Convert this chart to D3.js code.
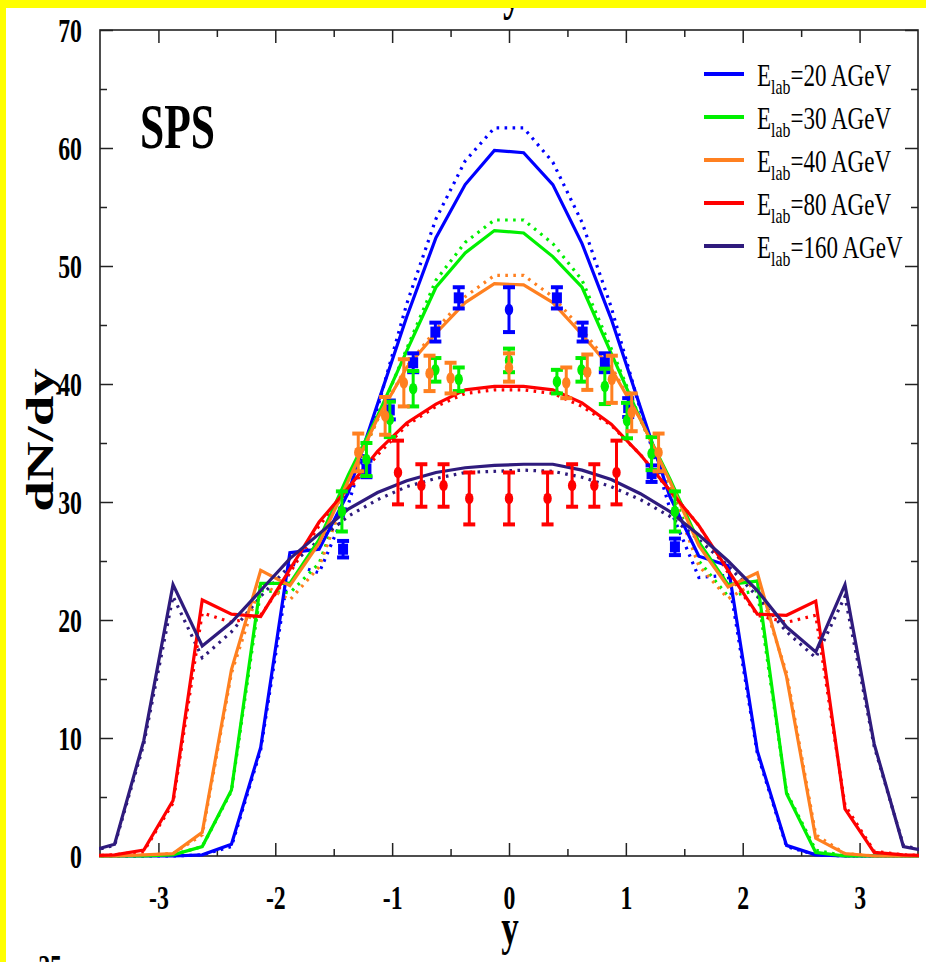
<!DOCTYPE html>
<html>
<head>
<meta charset="utf-8">
<script src="https://cdn.jsdelivr.net/npm/d3@7"></script>
<style>
  body { margin: 0; padding: 0; background: #fff; }
  svg { display: block; }
  text { font-family: 'Liberation Serif', 'Times New Roman', serif; }
</style>
</head>
<body>
<div id="main"></div>
<script>
// model grid (rapidity bins)
const xGrid = [-3.625, -3.375, -3.125, -2.875, -2.625, -2.375, -2.125, -1.875, -1.625, -1.375, -1.125, -0.875, -0.625, -0.375, -0.125,
    0.125, 0.375, 0.625, 0.875, 1.125, 1.375, 1.625, 1.875, 2.125, 2.375, 2.625, 2.875, 3.125, 3.375, 3.625];

const blueSolid = [0, 0, 0, 0, 0.1, 1.0, 9.2, 25.7, 26.0, 30.8, 38.3, 45.7, 52.4, 56.9, 59.8, 59.6, 56.9, 51.9, 45.5, 38.0, 30.5, 25.4, 24.6, 8.9, 0.9, 0.1, 0, 0, 0, 0];
const blueDot = [0, 0, 0, 0, 0.1, 0.8, 9.0, 24.8, 24.0, 29.8, 38.0, 46.8, 54.0, 58.9, 61.7, 61.7, 58.8, 53.7, 46.5, 37.8, 29.5, 23.6, 23.8, 8.7, 0.8, 0.1, 0, 0, 0, 0];
const greenSolid = [0, 0, 0, 0.1, 0.8, 5.6, 23.1, 23.1, 26.8, 32.3, 37.3, 42.8, 48.2, 51.1, 53.0, 52.8, 50.8, 48.2, 42.6, 37.0, 32.0, 26.6, 23.0, 23.3, 5.3, 0.3, 0, 0, 0, 0];
const greenDot = [0, 0, 0, 0.1, 0.8, 5.5, 22.5, 22.3, 24.8, 31.5, 37.0, 43.0, 48.8, 52.0, 53.9, 53.9, 51.9, 48.8, 43.0, 37.0, 31.5, 25.0, 22.0, 22.5, 5.4, 0.5, 0, 0, 0, 0];
const orangeSolid = [0, 0, 0.1, 0.2, 2.0, 15.8, 24.2, 22.9, 26.5, 31.8, 37.1, 41.4, 44.3, 46.9, 48.5, 48.4, 46.9, 44.2, 41.3, 37.0, 31.8, 26.3, 22.8, 24.0, 15.2, 1.5, 0.2, 0, 0, 0];
const orangeDot = [0, 0, 0.1, 0.2, 1.8, 15.5, 23.1, 21.7, 24.5, 31.2, 37.0, 41.5, 44.6, 47.4, 49.2, 49.2, 47.4, 44.6, 41.5, 37.0, 31.2, 24.6, 21.8, 23.3, 15.5, 1.8, 0.2, 0, 0, 0];
const redSolid = [0, 0.1, 0.5, 4.7, 21.7, 20.5, 20.3, 24.3, 28.3, 31.2, 34.3, 36.7, 38.3, 39.5, 39.8, 39.8, 39.5, 38.4, 36.6, 34.0, 31.0, 28.0, 24.2, 20.5, 20.4, 21.6, 4.0, 0.3, 0.1, 0];
const redDot = [0, 0.1, 0.4, 4.5, 20.6, 19.8, 20.4, 24.0, 28.0, 31.0, 34.0, 36.5, 38.1, 39.2, 39.5, 39.5, 39.2, 38.1, 36.5, 34.0, 31.0, 28.0, 24.0, 20.4, 19.8, 20.4, 4.3, 0.4, 0.1, 0];
const purpleSolid = [0.3, 1.0, 9.8, 23.0, 17.8, 19.8, 22.5, 25.2, 27.3, 29.4, 30.8, 31.8, 32.5, 32.9, 33.1, 33.2, 33.2, 32.7, 31.9, 30.7, 29.2, 27.2, 25.0, 22.5, 19.4, 17.3, 23.0, 9.5, 0.8, 0.3];
const purpleDot = [0.3, 0.9, 9.5, 22.0, 16.8, 19.0, 22.0, 24.6, 26.8, 28.8, 30.2, 31.3, 32.0, 32.5, 32.6, 32.7, 32.6, 32.1, 31.3, 30.2, 28.8, 26.8, 24.6, 22.0, 19.0, 16.8, 22.0, 9.3, 0.9, 0.3];

// measured points
const blueX = [-1.42, -1.22, -1.02, -0.82, -0.63, -0.43, 0, 0.41, 0.63, 0.82, 1.02, 1.22, 1.42];
const blueY = [26.0, 32.8, 37.8, 41.8, 44.4, 47.3, 46.3, 47.3, 44.4, 41.8, 38.0, 32.4, 26.2];
const blueErr = [0.7, 0.7, 0.8, 0.8, 0.8, 0.9, 1.9, 0.9, 0.8, 0.8, 0.8, 0.7, 0.7];
const greenX = [-1.43, -1.22, -1.02, -0.82, -0.63, -0.43, 0, 0.41, 0.62, 0.82, 1.01, 1.22, 1.42];
const greenY = [29.2, 33.6, 37.0, 39.6, 41.2, 40.4, 42.0, 40.2, 41.2, 39.8, 36.9, 34.1, 29.2];
const greenErr = [1.7, 1.4, 1.5, 1.5, 1.0, 1.0, 1.0, 1.0, 1.0, 1.5, 1.5, 1.4, 1.7];
const orangeX = [-1.29, -1.06, -0.9, -0.68, -0.5, 0, 0.49, 0.67, 0.88, 1.05, 1.28];
const orangeY = [34.2, 37.3, 40.1, 40.9, 40.5, 41.4, 40.1, 41.0, 40.4, 37.6, 34.2];
const orangeErr = [1.6, 1.6, 2.0, 1.5, 1.3, 1.2, 1.3, 1.5, 2.0, 1.6, 1.6];
const redX = [-0.95, -0.75, -0.56, -0.34, 0, 0.33, 0.54, 0.73, 0.92];
const redY = [32.5, 31.4, 31.4, 30.3, 30.3, 30.3, 31.4, 31.4, 32.5];
const redErr = [2.7, 1.8, 1.8, 2.2, 2.2, 2.2, 1.8, 1.8, 2.7];

const legendLabels = ['20', '30', '40', '80', '160'];
const seriesColors = ['#0000ff', '#00f000', '#ff8020', '#ff0000', '#2f1b7d'];

const xTicks = [-3, -2, -1, 0, 1, 2, 3];
const xMinor = [-2.5, -1.5, -0.5, 0.5, 1.5, 2.5];
const yTicks = [0, 10, 20, 30, 40, 50, 60, 70];
const yMinor = [5, 15, 25, 35, 45, 55, 65];

const WIDTH = 926, HEIGHT = 962;
const LEFT = 100, RIGHT = 918, TOP = 30, BOTTOM = 856;
const SQUEEZE = 0.7;

const scaleX = d3.scaleLinear().domain([-3.5, 3.5]).range([LEFT, RIGHT]);
const scaleY = d3.scaleLinear().domain([0, 70]).range([BOTTOM, TOP]);

const svg = d3.select('#main').append('svg')
    .attr('width', WIDTH)
    .attr('height', HEIGHT);

svg.append('rect').attr('width', WIDTH).attr('height', HEIGHT).attr('fill', '#fff');

svg.append('clipPath').attr('id', 'plotclip')
    .append('rect')
    .attr('x', LEFT - 1).attr('y', TOP)
    .attr('width', RIGHT - LEFT + 2).attr('height', BOTTOM - TOP + 4);

// axes
const axisStyle = (g) => {
    g.select('.domain').remove();
    g.selectAll('.tick line').attr('stroke', '#222').attr('stroke-width', 1.5);
};
const addAxis = (axis, transform) => svg.append('g').attr('transform', transform).call(axis).call(axisStyle);

addAxis(d3.axisBottom(scaleX).tickValues(xMinor).tickSize(-7).tickFormat(''), `translate(0,${BOTTOM})`);
addAxis(d3.axisTop(scaleX).tickValues(xMinor).tickSize(-7).tickFormat(''), `translate(0,${TOP})`);
addAxis(d3.axisTop(scaleX).tickValues(xTicks).tickSize(-13).tickFormat(''), `translate(0,${TOP})`);
addAxis(d3.axisLeft(scaleY).tickValues(yMinor).tickSize(-7).tickFormat(''), `translate(${LEFT},0)`);
addAxis(d3.axisRight(scaleY).tickValues(yMinor).tickSize(-7).tickFormat(''), `translate(${RIGHT},0)`);
addAxis(d3.axisRight(scaleY).tickValues(yTicks).tickSize(-13).tickFormat(''), `translate(${RIGHT},0)`);

const xAxis = addAxis(d3.axisBottom(scaleX).tickValues(xTicks).tickSize(-13).tickFormat(d3.format('d')), `translate(0,${BOTTOM})`);
xAxis.selectAll('text')
    .attr('y', 53).attr('dy', 0)
    .attr('fill', '#000')
    .attr('font-size', 34).attr('font-weight', 'bold')
    .attr('font-family', "'Liberation Serif', serif")
    .attr('transform', `scale(${SQUEEZE},1)`)
    .text((d) => d < 0 ? '-' + Math.abs(d) : d);

const yAxis = addAxis(d3.axisLeft(scaleY).tickValues(yTicks).tickSize(-13).tickFormat(d3.format('d')), `translate(${LEFT},0)`);
yAxis.selectAll('text')
    .attr('x', -18 / SQUEEZE).attr('dy', '0.34em')
    .attr('fill', '#000')
    .attr('font-size', 34).attr('font-weight', 'bold')
    .attr('font-family', "'Liberation Serif', serif")
    .attr('transform', `scale(${SQUEEZE},1)`);

svg.append('rect')
    .attr('x', LEFT).attr('y', TOP)
    .attr('width', RIGHT - LEFT).attr('height', BOTTOM - TOP)
    .attr('fill', 'none').attr('stroke', '#222').attr('stroke-width', 1.6);

// model curves
const line = d3.line().x((d) => scaleX(d[0])).y((d) => scaleY(d[1]));
const plot = svg.append('g').attr('clip-path', 'url(#plotclip)');
const solids = [blueSolid, greenSolid, orangeSolid, redSolid, purpleSolid];
const dots = [blueDot, greenDot, orangeDot, redDot, purpleDot];

dots.forEach((vals, i) => {
    plot.append('path')
        .datum(xGrid.map((x, j) => [x, vals[j]]))
        .attr('d', line)
        .attr('fill', 'none')
        .attr('stroke', seriesColors[i])
        .attr('stroke-width', 3.2)
        .attr('stroke-dasharray', '2.6,5.4');
});
solids.forEach((vals, i) => {
    plot.append('path')
        .datum(xGrid.map((x, j) => [x, vals[j]]))
        .attr('d', line)
        .attr('fill', 'none')
        .attr('stroke', seriesColors[i])
        .attr('stroke-width', 3.2)
        .attr('stroke-linejoin', 'miter');
});

// data points with error bars
const drawData = (xs, ys, errs, color, marker) => {
    const g = svg.append('g');
    const pts = xs.map((x, i) => ({ x: x, y: ys[i], e: errs[i] }));
    const p = g.selectAll('g').data(pts).enter().append('g');
    p.append('line')
        .attr('x1', (d) => scaleX(d.x)).attr('x2', (d) => scaleX(d.x))
        .attr('y1', (d) => scaleY(d.y + d.e)).attr('y2', (d) => scaleY(d.y - d.e))
        .attr('stroke', color).attr('stroke-width', 3);
    [1, -1].forEach((s) => {
        p.append('line')
            .attr('x1', (d) => scaleX(d.x) - 6).attr('x2', (d) => scaleX(d.x) + 6)
            .attr('y1', (d) => scaleY(d.y + s * d.e)).attr('y2', (d) => scaleY(d.y + s * d.e))
            .attr('stroke', color).attr('stroke-width', 4);
    });
    p.each(function (d) {
        const el = d3.select(this);
        if (marker === 'square' && d.x !== 0) {
            el.append('rect')
                .attr('x', scaleX(d.x) - 5).attr('y', scaleY(d.y) - 5.5)
                .attr('width', 10).attr('height', 11)
                .attr('fill', color);
        } else {
            el.append('ellipse')
                .attr('cx', scaleX(d.x)).attr('cy', scaleY(d.y))
                .attr('rx', 4.2).attr('ry', 5.8)
                .attr('fill', color);
        }
    });
};
drawData(blueX, blueY, blueErr, seriesColors[0], 'square');
drawData(greenX, greenY, greenErr, seriesColors[1], 'circle');
drawData(orangeX, orangeY, orangeErr, seriesColors[2], 'circle');
drawData(redX, redY, redErr, seriesColors[3], 'circle');

// legend
const legend = svg.append('g');
legendLabels.forEach((lab, i) => {
    const ly = 74 + i * 43;
    legend.append('line')
        .attr('x1', 704).attr('x2', 744)
        .attr('y1', ly).attr('y2', ly)
        .attr('stroke', seriesColors[i]).attr('stroke-width', 4);
    const t = legend.append('text')
        .attr('transform', `translate(757,${ly + 12}) scale(0.72,1)`)
        .attr('font-size', 32).attr('fill', '#000');
    t.append('tspan').text('E');
    t.append('tspan').text('lab').attr('font-size', 22).attr('dy', 8);
    t.append('tspan').text(`=${lab} AGeV`).attr('dy', -8);
});

// labels
svg.append('text')
    .attr('transform', 'translate(140,148) scale(0.68,1)')
    .attr('font-size', 64).attr('font-weight', 'bold')
    .text('SPS');

svg.append('text')
    .attr('transform', `translate(53,440) scale(${SQUEEZE},1) rotate(-90)`)
    .attr('text-anchor', 'middle')
    .attr('font-size', 55).attr('font-weight', 'bold')
    .text('dN/dy');

svg.append('text')
    .attr('transform', `translate(510,944) scale(${SQUEEZE},1)`)
    .attr('text-anchor', 'middle')
    .attr('font-size', 50).attr('font-weight', 'bold')
    .text('y');

// fragments of neighbouring panels
svg.append('text')
    .attr('transform', `translate(512,9) scale(${SQUEEZE},1)`)
    .attr('text-anchor', 'middle')
    .attr('font-size', 52).attr('font-weight', 'bold')
    .text('y');
svg.append('text')
    .attr('transform', `translate(62,978) scale(${SQUEEZE},1)`)
    .attr('text-anchor', 'end')
    .attr('font-size', 34).attr('font-weight', 'bold')
    .text('25');

// yellow frame
svg.append('rect').attr('x', 0).attr('y', 0).attr('width', WIDTH).attr('height', 8).attr('fill', '#ffff00');
svg.append('rect').attr('x', 0).attr('y', 0).attr('width', 6).attr('height', HEIGHT).attr('fill', '#ffff00');
</script>
</body>
</html>
